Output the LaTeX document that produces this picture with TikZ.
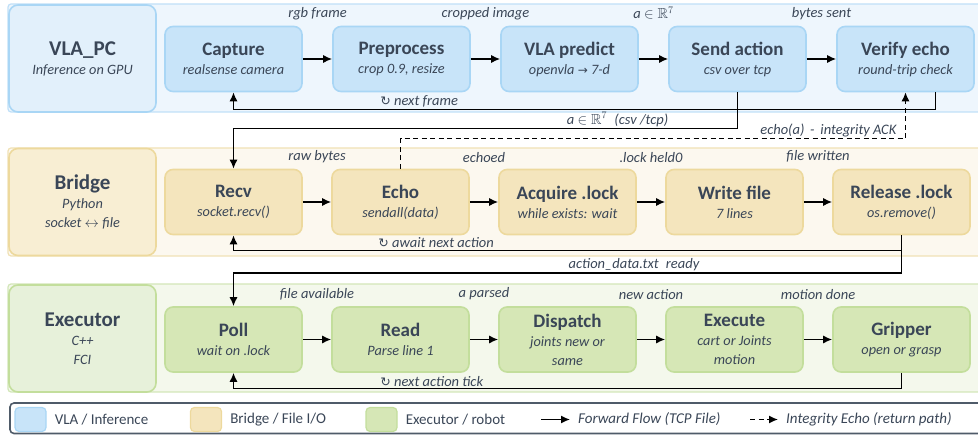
\documentclass[tikz,border=0pt]{standalone}
\usepackage{amssymb}
\usepackage{fontspec}
\setmainfont{Carlito}
\newfontfamily\symfont{DejaVu Sans}
\usetikzlibrary{arrows.meta, calc, positioning}
\definecolor{ink}{HTML}{3A4657}
\definecolor{keyline}{HTML}{4F5B69}
\definecolor{vlaband}{HTML}{EEF6FD}\definecolor{vlaline}{HTML}{C0E0F8}
\definecolor{vlahead}{HTML}{E2F0FB}\definecolor{vlaedge}{HTML}{A9D6F5}
\definecolor{vlafill}{HTML}{C8E4F9}
\definecolor{brgband}{HTML}{FCF8EF}\definecolor{brgline}{HTML}{F0E1B5}
\definecolor{brghead}{HTML}{F8EED3}\definecolor{brgedge}{HTML}{EDD99D}
\definecolor{brgfill}{HTML}{F4E5BD}
\definecolor{exeband}{HTML}{F4F8EC}\definecolor{exeline}{HTML}{D3E6B9}
\definecolor{exehead}{HTML}{E7F1DA}\definecolor{exeedge}{HTML}{C3DE9C}
\definecolor{exefill}{HTML}{D6E7B6}
\newcommand{\headfont}{\fontsize{21}{24}\selectfont\bfseries\upshape}
\newcommand{\titlefont}{\fontsize{19}{22}\selectfont\bfseries\upshape}
\newcommand{\subfont}{\fontsize{14.3}{19}\selectfont\itshape}
\newcommand{\notefont}{\fontsize{14.5}{16}\selectfont\itshape}
\newcommand{\keyfont}{\fontsize{15}{17}\selectfont}
\newcommand{\loopmark}{{\symfont\fontsize{12.5}{14}\selectfont↻}}
\newcommand{\boxtext}[2]{{\titlefont #1}\\\itshape #2}
\tikzset{
    >={Latex[length=9pt, width=8pt]},
    flow/.style={->, line width=1.4pt, black},
    echoflow/.style={flow, dash pattern=on 5pt off 3.5pt},
    lane/.style={fill=#1band, draw=#1line, line width=1.2pt, rounded corners=3pt},
    head/.style={fill=#1head, draw=#1edge, line width=1.6pt, rounded corners=9pt,
        text=ink, align=center, font=\subfont, minimum width=147, minimum height=107},
    proc/.style={fill=#1fill, draw=#1edge, line width=1.6pt, rounded corners=8pt,
        text=ink, align=center, font=\subfont, minimum width=137, minimum height=65, inner sep=2pt},
    swatch/.style={fill=#1fill, draw=#1edge, line width=1.2pt, rounded corners=4pt,
        minimum width=31, minimum height=24, inner sep=0pt},
    note/.style={text=ink, font=\notefont, inner sep=1pt},
    keytext/.style={text=ink, font=\keyfont, inner sep=1pt},
}
\begin{document}
\begin{tikzpicture}[x=1pt, y=-1pt]
    \useasboundingbox (0,0) rectangle (978,435);
    \foreach \c/\y in {vla/4, brg/148, exe/284}
        \draw[lane=\c] (8,\y) rectangle (992,\y+108);
    \node[head=vla] (hv) at (82.5,58.5) {{\headfont VLA\_PC}\\Inference on GPU};
    \node[head=brg] (hb) at (82.5,202) {{\headfont Bridge}\\Python\\socket $\leftrightarrow$ file};
    \node[head=exe] (he) at (82.5,338.5) {{\headfont Executor}\\C++\\FCI};
    % stages
    \foreach \t/\s [count=\i, evaluate={\x=233.5+168*(\i-1)}] in {Capture/realsense camera,
            Preprocess/{crop 0.9, resize}, VLA predict/{openvla {\symfont\fontsize{12}{14}\selectfont→} 7-d},
            Send action/csv over tcp, Verify echo/round-trip check}
        \node[proc=vla] (v\i) at (\x,59) {\boxtext{\t}{\s}};
    \foreach \t/\s [count=\i, evaluate={\x=233.5+167*(\i-1)}] in {Recv/socket.recv(),
            Echo/sendall(data), Acquire .lock/while exists: wait, Write file/7 lines,
            Release .lock/os.remove()}
        \node[proc=brg] (b\i) at (\x,202) {\boxtext{\t}{\s}};
    \foreach \t/\s [count=\i, evaluate={\x=233.5+167*(\i-1)}] in {Poll/wait on .lock,
            Read/Parse line 1, Dispatch/{joints new or\\same}, Execute/{cart or Joints\\motion},
            Gripper/open or grasp}
        \node[proc=exe] (e\i) at (\x,339.5) {\boxtext{\t}{\s}};
    % forward arrows and their labels
    \foreach \l [count=\i, evaluate={\j=int(\i+1)}] in {rgb frame, cropped image,
            {a $\in\mathbb{R}^{7}$}, bytes sent} {
        \draw[flow] (v\i) -- (v\j);
        \node[note, above=5pt] at ($(v\i.north east)!.5!(v\j.north west)$) {\l};
    }
    \foreach \l [count=\i, evaluate={\j=int(\i+1)}] in {raw bytes, echoed, .lock held0, file written} {
        \draw[flow] (b\i) -- (b\j);
        \node[note, above=5pt] at ($(b\i.north east)!.5!(b\j.north west)$) {\l};
    }
    \foreach \l [count=\i, evaluate={\j=int(\i+1)}] in {file available, a parsed, new action, motion done} {
        \draw[flow] (e\i) -- (e\j);
        \node[note, above=5pt] at ($(e\i.north east)!.5!(e\j.north west)$) {\l};
    }
    % loops back to the first stage
    \draw[flow] ([xshift=30]v5.south) -- ++(0,17) coordinate (vback) -| (v1.south);
    \node[note, anchor=south west] at ($(v2.south west |- vback)+(47,-1)$) {\loopmark\ next frame};
    \draw[flow] (b5.south) -- ++(0,15) coordinate (bback) -| (b1.south);
    \node[note, anchor=south west] at ($(b2.south west |- bback)+(46,-1)$) {\loopmark\ await next action};
    \draw[flow] (e5.south) -- ++(0,16) coordinate (eback) -| (e1.south);
    \node[note, anchor=south west] at ($(e2.south west |- eback)+(48,-1)$) {\loopmark\ next action tick};
    % between lanes
    \coordinate (tx) at ($(b1.north)+(0,-40)$);
    \draw[flow] (v4.south) |- (tx) -- (b1.north);
    \node[note, anchor=south east] at ($(v4.south |- tx)+(-68,-1)$)
        {a $\in\mathbb{R}^{7}$\hspace{0.5em}(csv /tcp)};
    \draw[echoflow] (b2.north) -- ++(0,-30) coordinate (ack) -| (v5.south);
    \node[note, anchor=south east] at ($(v5.south |- ack)+(-8,-1)$)
        {echo(a)\hspace{0.4em}-\hspace{0.4em}integrity ACK};
    \coordinate (rp) at ($(e1.north)+(0,-33)$);
    \draw[flow] (b5.south) |- (rp) -- (e1.north);
    \node[note, anchor=south east] at ($(b5.south |- rp)+(-201,-1)$)
        {action\_data.txt\hspace{0.5em}ready};
    % legend
    \draw[keyline, line width=1.6pt, rounded corners=4pt] (10,403) rectangle (995,433.5);
    \foreach \c/\x/\l in {vla/30.5/{VLA / Inference}, brg/206/{Bridge / File I/O}, exe/381.5/{Executor / robot}} {
        \node[swatch=\c] (k\c) at (\x,419.5) {};
        \node[keytext, right=7pt of k\c] {\l};
    }
    \coordinate (fa) at (541,419.5); \coordinate (fb) at (570,419.5);
    \draw[flow] (fa) -- (fb);
    \node[keytext, font=\keyfont\itshape, right=7pt of fb] {Forward Flow (TCP File)};
    \coordinate (da) at (750,419.5); \coordinate (db) at (778,419.5);
    \draw[echoflow] (da) -- (db);
    \node[keytext, font=\keyfont\itshape, right=7pt of db] {Integrity Echo (return path)};
\end{tikzpicture}
\end{document}
